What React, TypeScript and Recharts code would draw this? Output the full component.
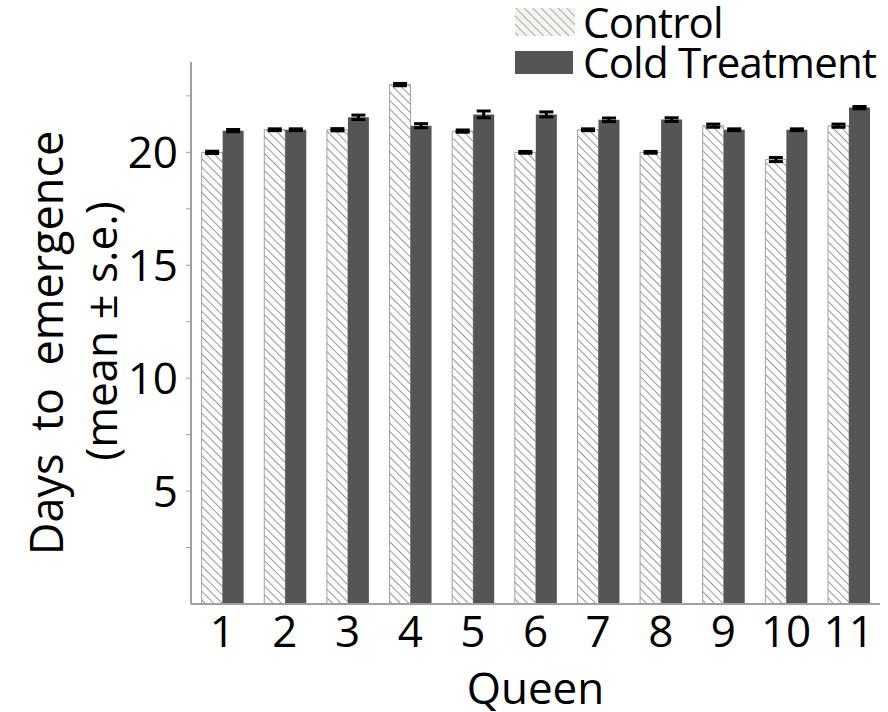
import { Bar, BarChart, ErrorBar, Label, Legend, XAxis, YAxis } from "recharts";

const queens = ["1", "2", "3", "4", "5", "6", "7", "8", "9", "10", "11"];
const controlMeans = [20.0, 21.0, 21.0, 23.0, 20.94, 20.0, 21.0, 20.0, 21.18, 19.68, 21.18];
const controlErr = [0.05, 0.04, 0.05, 0.05, 0.05, 0.04, 0.04, 0.04, 0.07, 0.09, 0.07];
const coldMeans = [20.96, 21.0, 21.55, 21.18, 21.68, 21.68, 21.44, 21.45, 21.0, 21.0, 21.98];
const coldErr = [0.05, 0.04, 0.1, 0.09, 0.15, 0.11, 0.08, 0.08, 0.04, 0.04, 0.05];
const yTicks = [2.5, 5, 7.5, 10, 12.5, 15, 17.5, 20, 22.5];

const data = queens.map((q, i) => ({
  queen: q,
  control: controlMeans[i],
  controlErr: controlErr[i],
  cold: coldMeans[i],
  coldErr: coldErr[i],
}));

const FONT = "'Open Sans', 'Noto Sans', sans-serif";

const HatchSwatch = ({ w, h }: { w: number; h: number }) => (
  <svg width={w} height={h} style={{ display: "block" }}>
    <defs>
      <pattern
        id="legendHatch"
        width={6}
        height={6}
        patternUnits="userSpaceOnUse"
        patternTransform="rotate(-45)"
      >
        <rect width={6} height={6} fill="#f4f4ef" />
        <line x1={0} y1={0} x2={0} y2={6} stroke="#aaa" strokeWidth={2} />
      </pattern>
    </defs>
    <rect width={w} height={h} fill="url(#legendHatch)" />
  </svg>
);

const renderLegend = () => (
  <div
    style={{
      fontFamily: FONT,
      fontSize: 42,
      lineHeight: "40px",
      color: "#000",
      whiteSpace: "nowrap",
      letterSpacing: -0.8,
      paddingTop: 2,
    }}
  >
    <div style={{ display: "flex", alignItems: "center" }}>
      <HatchSwatch w={60} h={28} />
      <span style={{ marginLeft: 8 }}>Control</span>
    </div>
    <div style={{ display: "flex", alignItems: "center" }}>
      <div style={{ width: 58, height: 23, background: "#555555" }} />
      <span style={{ marginLeft: 10 }}>Cold Treatment</span>
    </div>
  </div>
);

const YLabel = (props: any) => {
  const vb = props.viewBox || { x: 0, y: 0, width: 0, height: 0 };
  const cy = vb.y + vb.height / 2;
  const x1 = vb.x + 45;
  const x2 = vb.x + 100;
  const y1 = cy + 10;
  const y2 = cy - 2;
  return (
    <g fontFamily={FONT} fill="#000">
      <text
        x={x1}
        y={y1}
        fontSize={45}
        textAnchor="middle"
        dominantBaseline="central"
        transform={`rotate(-90 ${x1} ${y1})`}
      >
        {"Days\u2002to\u2002emergence"}
      </text>
      <text
        x={x2}
        y={y2}
        fontSize={44}
        textAnchor="middle"
        dominantBaseline="central"
        transform={`rotate(-90 ${x2} ${y2})`}
      >
        (mean ± s.e.)
      </text>
    </g>
  );
};

export default function App() {
  return (
    <div style={{ position: "absolute", left: 0, top: 0, width: 888, height: 712, background: "#fff" }}>
      <BarChart
        width={888}
        height={712}
        data={data}
        margin={{ top: 62, right: 8, left: 0, bottom: 0 }}
        barGap={0}
        barCategoryGap="17%"
      >
        <defs>
          <pattern
            id="hatch"
            width={6}
            height={6}
            patternUnits="userSpaceOnUse"
            patternTransform="rotate(-45)"
          >
            <rect width={6} height={6} fill="#fff" />
            <line x1={0} y1={0} x2={0} y2={6} stroke="#858585" strokeWidth={1.7} />
          </pattern>
        </defs>
        <XAxis
          dataKey="queen"
          height={108}
          axisLine={{ stroke: "#a0a0a0", strokeWidth: 2 }}
          tickLine={false}
          tick={{ fontFamily: FONT, fontSize: 44, fill: "#000" }}
          tickMargin={6}
          interval={0}
        >
          <Label
            value="Queen"
            position="insideBottom"
            offset={8}
            style={{ fontFamily: FONT, fontSize: 44, fill: "#000" }}
          />
        </XAxis>
        <YAxis
          width={191}
          domain={[0, 24]}
          ticks={yTicks}
          interval={0}
          axisLine={{ stroke: "#a0a0a0", strokeWidth: 2 }}
          tickLine={{ stroke: "#a0a0a0" }}
          tickSize={5}
          tickMargin={8}
          tick={{ fontFamily: FONT, fontSize: 44, fill: "#000" }}
          tickFormatter={(v: number) => (v % 5 === 0 ? String(v) : "")}
        >
          <Label content={<YLabel />} />
        </YAxis>
        <Legend
          content={renderLegend}
          layout="horizontal"
          verticalAlign="middle"
          align="center"
          wrapperStyle={{ position: "absolute", top: 0, left: 515, width: 373, height: 84 }}
        />
        <Bar
          dataKey="control"
          name="Control"
          fill="url(#hatch)"
          stroke="#a0a0a0"
          strokeWidth={1}
          isAnimationActive={false}
        >
          <ErrorBar dataKey="controlErr" width={7} stroke="#000" strokeWidth={3} />
        </Bar>
        <Bar dataKey="cold" name="Cold Treatment" fill="#555555" isAnimationActive={false}>
          <ErrorBar dataKey="coldErr" width={7} stroke="#000" strokeWidth={3} />
        </Bar>
      </BarChart>
    </div>
  );
}
